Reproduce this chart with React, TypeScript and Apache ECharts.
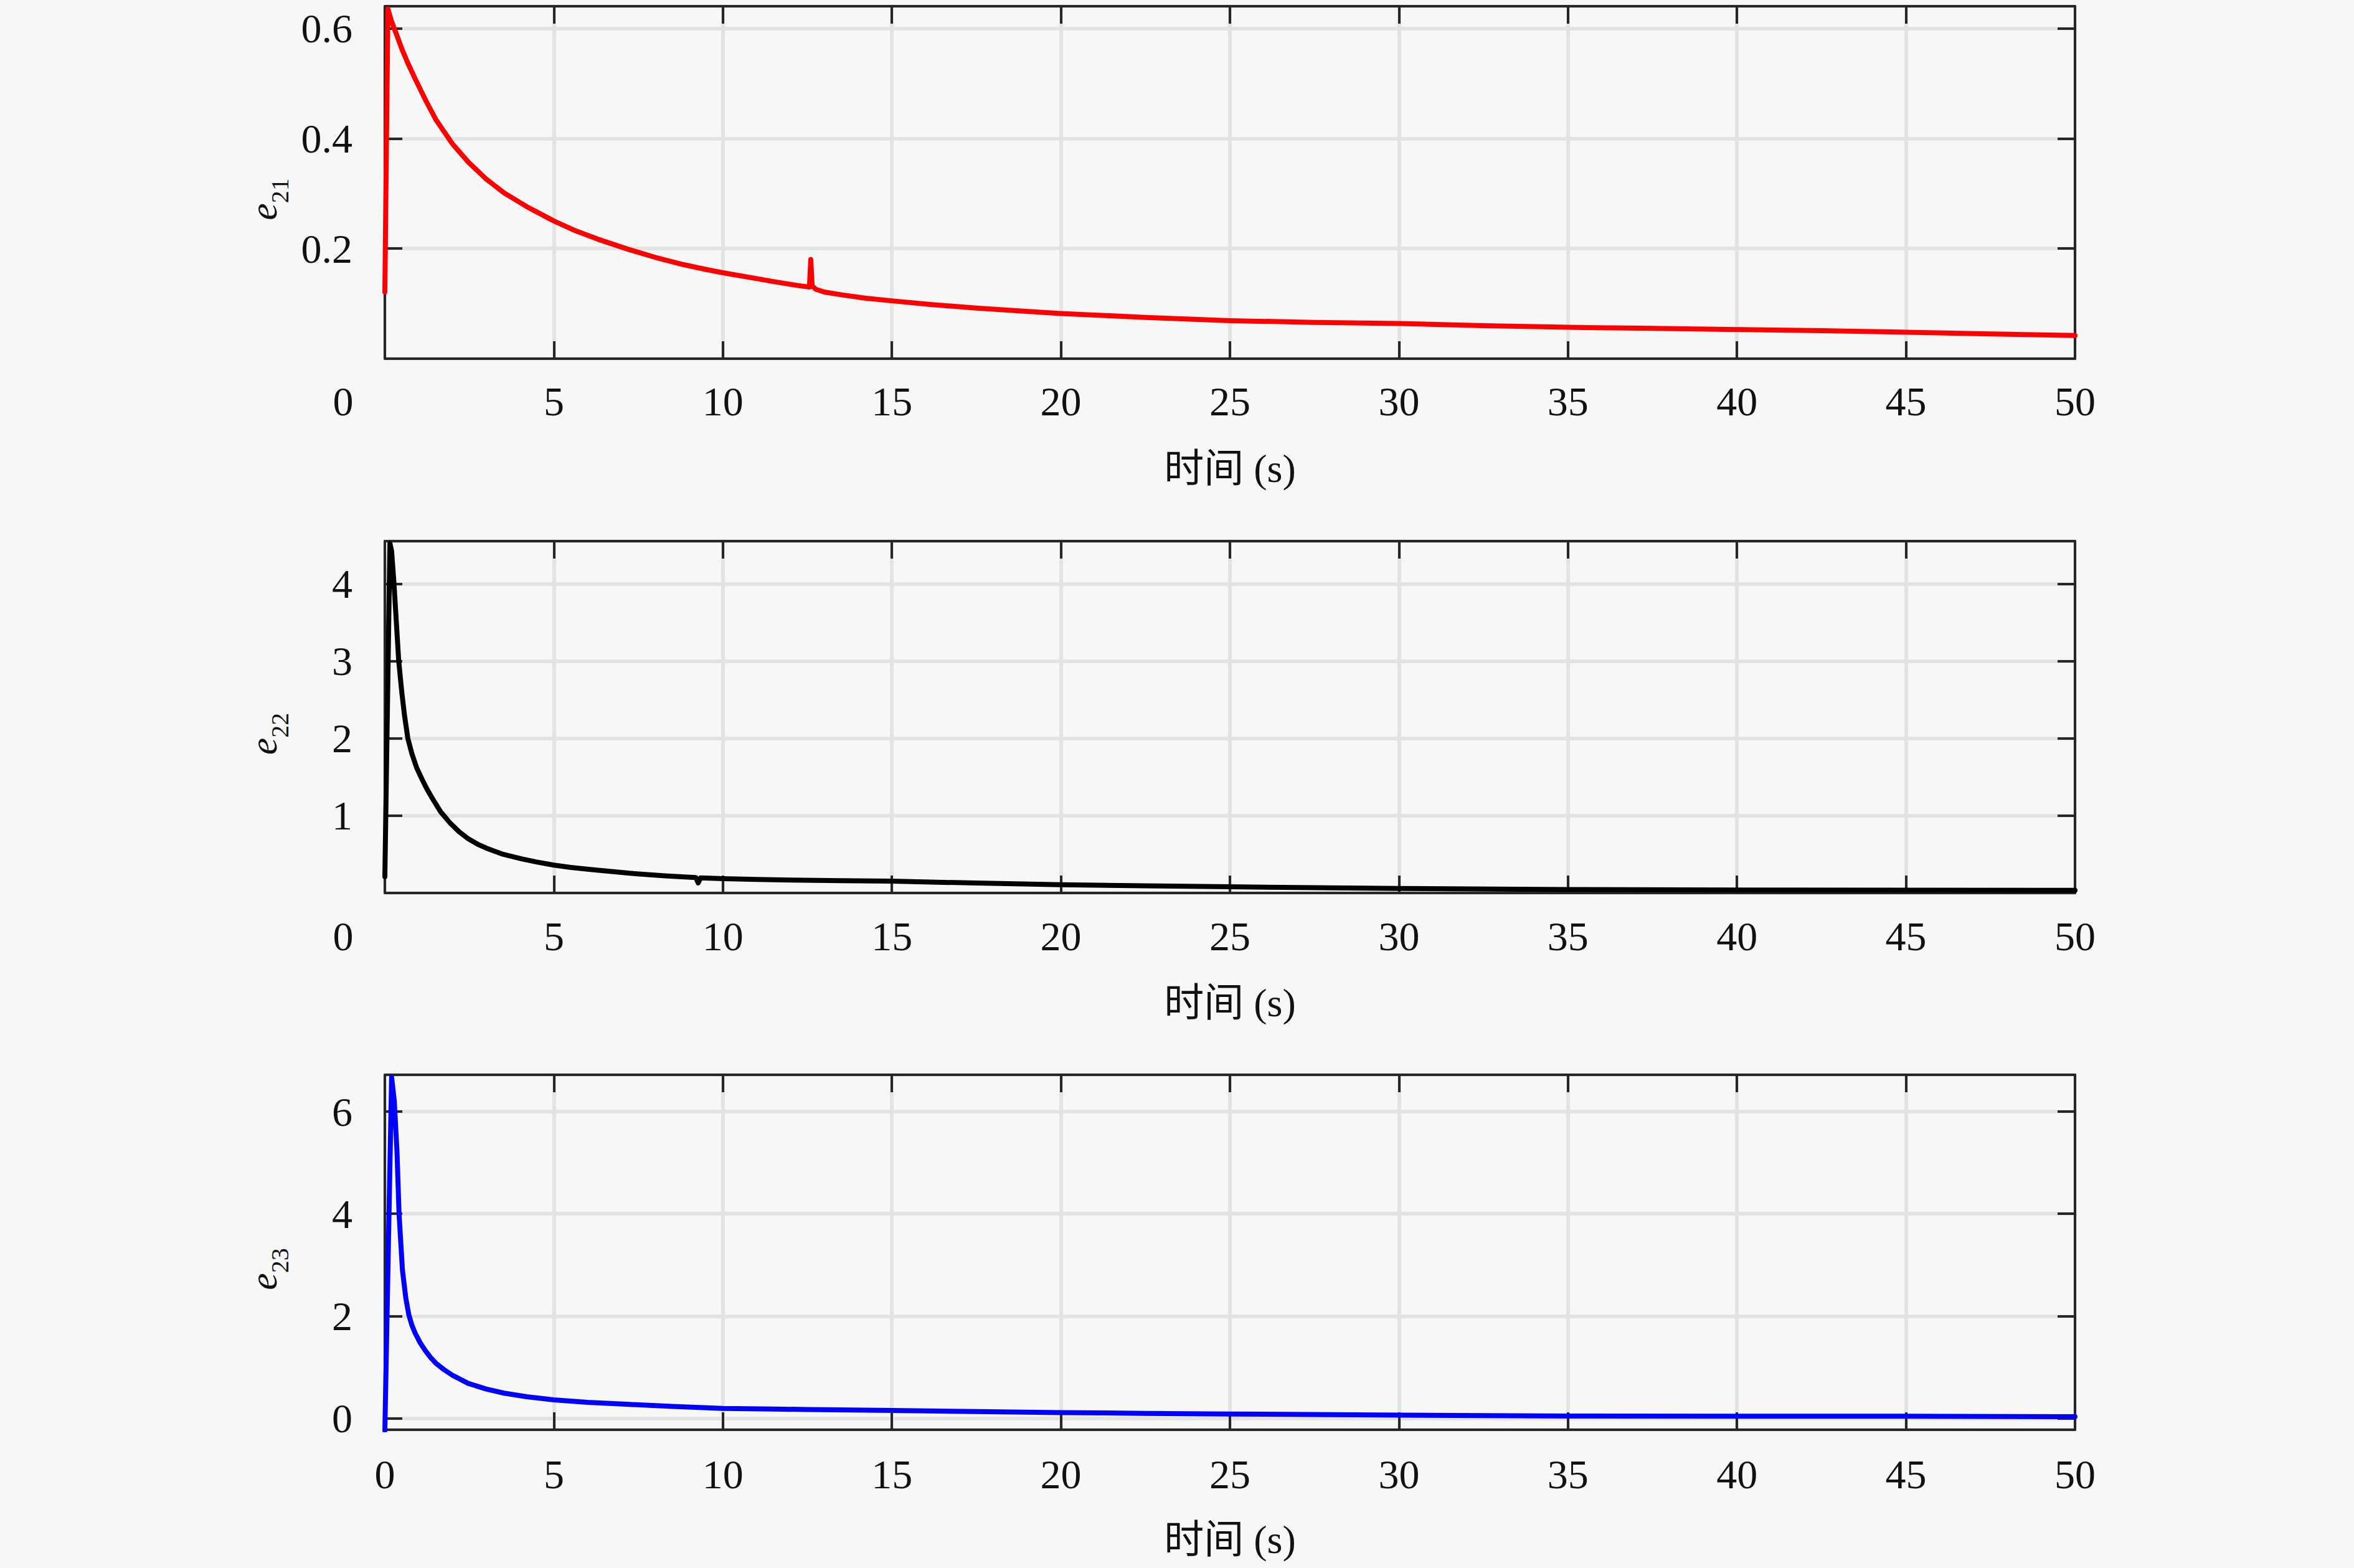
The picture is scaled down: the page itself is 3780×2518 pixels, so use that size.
import React, { useEffect, useRef } from "react";
import * as echarts from "echarts";

// ---------- data ----------
const xTicks = [0, 5, 10, 15, 20, 25, 30, 35, 40, 45, 50];
const xAxisName = "时间 (s)";

const t21 = [0, 0.09, 0.2, 0.35, 0.5, 0.67, 0.89, 1.2, 1.52, 2.0, 2.47, 3.0, 3.53, 4.2, 4.6, 5.0, 5.65, 6.3, 7.23, 8.0, 8.82, 9.5, 10.0, 10.94, 11.6, 12.2, 12.56, 12.6, 12.64, 12.75, 13.0, 13.5, 14.2, 15.0, 16.2, 17.5, 18.7, 20.0, 22.5, 25.0, 27.5, 30.0, 32.5, 35.0, 37.5, 40.0, 42.5, 45.0, 47.5, 50.0];
const e21 = [0.121, 0.635, 0.612, 0.588, 0.563, 0.538, 0.509, 0.47, 0.433, 0.39, 0.357, 0.326, 0.301, 0.276, 0.263, 0.25, 0.232, 0.217, 0.198, 0.184, 0.171, 0.162, 0.156, 0.146, 0.139, 0.133, 0.13, 0.18, 0.132, 0.126, 0.121, 0.116, 0.11, 0.105, 0.098, 0.092, 0.087, 0.082, 0.075, 0.069, 0.066, 0.064, 0.06, 0.057, 0.055, 0.053, 0.051, 0.048, 0.045, 0.042];

const t22 = [0, 0.15, 0.2, 0.27, 0.34, 0.41, 0.5, 0.58, 0.68, 0.8, 0.94, 1.1, 1.25, 1.41, 1.65, 1.94, 2.2, 2.47, 2.75, 3.0, 3.5, 4.06, 4.5, 5.0, 5.5, 6.17, 7.24, 8.29, 9.2, 9.27, 9.34, 10, 11, 12, 13.5, 15, 17.5, 20, 22.5, 25, 27.5, 30, 35, 40, 45, 50];
const e22 = [0.21, 4.52, 4.42, 4.0, 3.5, 3.0, 2.6, 2.3, 2.0, 1.8, 1.62, 1.47, 1.34, 1.22, 1.05, 0.9, 0.79, 0.7, 0.63, 0.58, 0.5, 0.44, 0.4, 0.36, 0.33, 0.3, 0.255, 0.222, 0.2, 0.13, 0.195, 0.185, 0.175, 0.167, 0.16, 0.153, 0.128, 0.107, 0.092, 0.08, 0.069, 0.059, 0.045, 0.038, 0.036, 0.035];

const t23 = [0, 0.2, 0.28, 0.36, 0.42, 0.52, 0.62, 0.71, 0.8, 0.9, 1.05, 1.2, 1.35, 1.52, 1.75, 2.0, 2.47, 3.0, 3.53, 4.2, 5.0, 6.0, 7.24, 8.5, 10, 11.5, 12.5, 15, 17.5, 20, 22.5, 25, 30, 35, 40, 45, 50];
const e23 = [-0.24, 6.67, 6.2, 5.2, 4.0, 2.9, 2.35, 2.02, 1.82, 1.66, 1.47, 1.32, 1.19, 1.07, 0.95, 0.84, 0.68, 0.57, 0.49, 0.42, 0.36, 0.31, 0.27, 0.23, 0.19, 0.18, 0.17, 0.152, 0.13, 0.11, 0.095, 0.083, 0.059, 0.043, 0.04, 0.04, 0.03];

const seriesNames = ["e21", "e22", "e23"];
const subscripts = ["21", "22", "23"];
const yMins = [0, 0, -0.226];
const yMaxs = [0.64, 4.55, 6.72];
const ySplits = [3, 4, 3];

// ---------- styles ----------
const W = 3780;
const H = 2518;
const SERIF = "'Liberation Serif', 'DejaVu Serif', 'Noto Sans CJK SC', serif";
const BG = "#f7f7f7";
const AX = "#262626";
const GRIDC = "#e3e3e3";
const TXT = "#111111";
const colors = ["#ff0000", "#000000", "#0000ff"];
const gridTops = [10, 869, 1726];
const gridHeights = [566, 565, 570];
const xLabelMargins = [35, 36, 38];
const shiftZero = [true, true, false];

function buildOption() {
  const times = [t21, t22, t23];
  const vals = [e21, e22, e23];
  const grid: any[] = [];
  const xAxis: any[] = [];
  const yAxis: any[] = [];
  const series: any[] = [];

  const axisLine = { show: true, onZero: false, lineStyle: { color: AX, width: 4 } };
  const axisTick = { show: true, inside: true, length: 28, lineStyle: { color: AX, width: 4 } };

  for (let i = 0; i < 3; i++) {
    grid.push({ left: 618, width: 2714, top: gridTops[i], height: gridHeights[i], containLabel: false });

    const sz = shiftZero[i];
    xAxis.push({
      type: "value",
      gridIndex: i,
      min: xTicks[0],
      max: xTicks[xTicks.length - 1],
      interval: xTicks[1] - xTicks[0],
      position: "bottom",
      axisLine,
      axisTick,
      axisLabel: {
        show: true,
        margin: xLabelMargins[i],
        fontSize: 66,
        fontFamily: SERIF,
        color: TXT,
        formatter: (v: number) => (v === 0 && sz ? "{z|0}" : String(v)),
        rich: { z: { fontSize: 66, fontFamily: SERIF, color: TXT, padding: [0, 134, 0, 0] } },
      },
      splitLine: { show: true, lineStyle: { color: GRIDC, width: 6 } },
      name: xAxisName,
      nameLocation: "middle",
      nameGap: 144,
      nameTextStyle: { fontSize: 64, fontFamily: SERIF, color: TXT },
    });
    xAxis.push({
      type: "value",
      gridIndex: i,
      min: xTicks[0],
      max: xTicks[xTicks.length - 1],
      interval: xTicks[1] - xTicks[0],
      position: "top",
      axisLine,
      axisTick,
      axisLabel: { show: false },
      splitLine: { show: false },
    });

    yAxis.push({
      type: "value",
      gridIndex: i,
      min: yMins[i],
      max: yMaxs[i],
      splitNumber: ySplits[i],
      position: "left",
      axisLine,
      axisTick,
      axisLabel: {
        show: true,
        showMinLabel: false,
        showMaxLabel: false,
        margin: 52,
        fontSize: 66,
        fontFamily: SERIF,
        color: TXT,
      },
      splitLine: { show: true, lineStyle: { color: GRIDC, width: 6 } },
      name: "{e|e}{s|" + subscripts[i] + "}",
      nameLocation: "middle",
      nameRotate: 90,
      nameGap: 149,
      nameTextStyle: {
        padding: [0, 54, 0, 0],
        rich: {
          e: { fontSize: 62, fontStyle: "italic", fontFamily: SERIF, color: TXT },
          s: { fontSize: 40, fontFamily: SERIF, color: TXT, padding: [52, 0, 0, 0] },
        },
      },
    });
    yAxis.push({
      type: "value",
      gridIndex: i,
      min: yMins[i],
      max: yMaxs[i],
      splitNumber: ySplits[i],
      position: "right",
      axisLine,
      axisTick,
      axisLabel: { show: false },
      splitLine: { show: false },
    });

    series.push({
      name: seriesNames[i],
      type: "line",
      xAxisIndex: 2 * i,
      yAxisIndex: 2 * i,
      data: times[i].map((t, k) => [t, vals[i][k]]),
      symbol: "none",
      showSymbol: false,
      smooth: false,
      clip: true,
      lineStyle: { color: colors[i], width: 8, join: "round", cap: "round" },
      itemStyle: { color: colors[i] },
      z: 3,
    });
  }

  return {
    animation: false,
    backgroundColor: BG,
    grid,
    xAxis,
    yAxis,
    series,
  };
}

export default function App() {
  const ref = useRef<HTMLDivElement>(null);
  useEffect(() => {
    document.body.style.margin = "0";
    document.body.style.background = BG;
    if (!ref.current) return;
    const chart = echarts.init(ref.current, undefined, { renderer: "svg" });
    chart.setOption(buildOption() as any);
    return () => chart.dispose();
  }, []);
  return (
    <div
      ref={ref}
      style={{ position: "absolute", left: 0, top: 0, width: W + "px", height: H + "px", background: BG }}
    />
  );
}
